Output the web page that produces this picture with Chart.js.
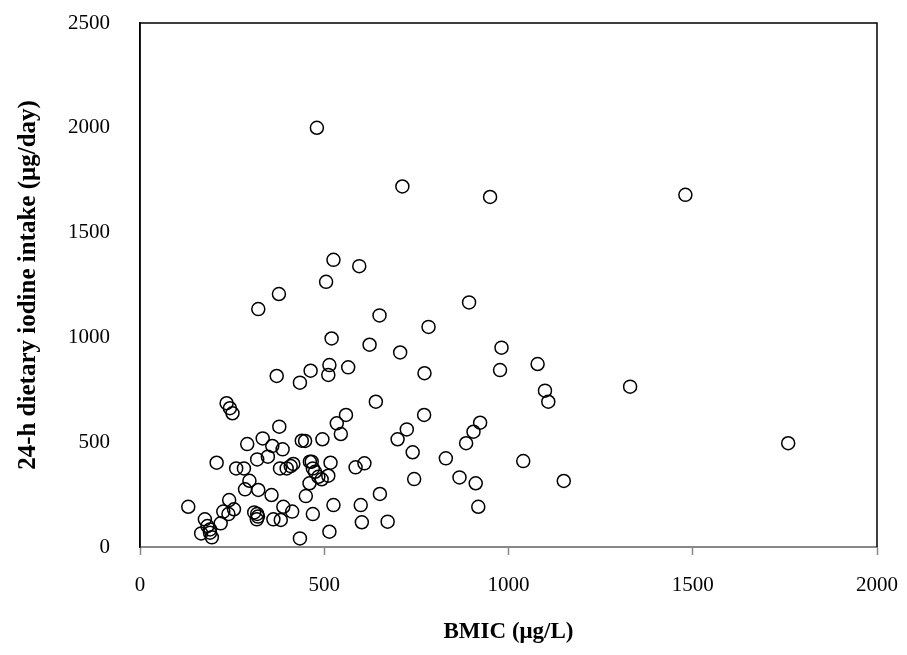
<!DOCTYPE html>
<html lang="en">
<head>
    <meta charset="UTF-8">
    <title>BMIC vs dietary iodine intake</title>
    <script src="https://cdn.jsdelivr.net/npm/chart.js"></script>
    <style>
        html, body {
            margin: 0;
            padding: 0;
            background: #ffffff;
        }
        .chart-box {
            width: 907px;
            height: 655px;
            position: relative;
        }
    </style>
</head>
<body>
    <div class="chart-box">
        <canvas id="scatterChart"></canvas>
    </div>

    <script>
        // BMIC (ug/L)
        const bmic = [
            480, 712, 950, 1480, 525, 595, 505, 377, 321, 650,
            893, 783, 520, 623, 706, 981, 977, 1079, 514, 511,
            565, 463, 434, 371, 772, 1099, 1108, 1330, 640, 235,
            244, 251, 559, 771, 534, 378, 923, 905, 724, 545,
            495, 448, 439, 699, 885, 1759, 333, 291, 359, 387,
            740, 830, 1040, 1150, 208, 261, 282, 318, 347, 380,
            398, 409, 416, 466, 461, 517, 585, 609, 867, 911,
            918, 744, 651, 469, 475, 484, 493, 511, 460, 297,
            285, 321, 357, 450, 525, 599, 469, 602, 672, 514,
            434, 389, 413, 362, 382, 310, 318, 320, 317, 242,
            255, 226, 240, 219, 131, 176, 183, 190, 166, 195,
            190
        ];
        // 24-h dietary iodine intake (ug/day), same order
        const intake = [
            2000, 1720, 1670, 1680, 1370, 1340, 1265, 1207, 1135, 1105,
            1167, 1050, 995, 965, 928, 951, 844, 873, 868, 821,
            857, 841, 784, 816, 829, 746, 693, 765, 693, 686,
            662, 638, 630, 630, 590, 574, 593, 550, 561, 539,
            514, 506, 507, 514, 495, 495, 518, 491, 482, 466,
            452, 423, 410, 315, 402, 375, 375, 418, 431, 375,
            375, 386, 396, 407, 407, 402, 380, 399, 332, 304,
            192, 324, 253, 375, 359, 335, 323, 340, 304, 316,
            275, 272, 248, 243, 200, 200, 157, 118, 121, 73,
            41, 192, 169, 132, 129, 165, 158, 145, 132, 224,
            180, 169, 157, 113, 192, 132, 100, 84, 65, 46,
            68
        ];
        const xTicks = [0, 500, 1000, 1500, 2000];
        const yTicks = [0, 500, 1000, 1500, 2000, 2500];

        const points = bmic.map((x, i) => ({ x: x, y: intake[i] }));

        const serif = "'Liberation Serif', 'Times New Roman', serif";

        // box around the plot area (Excel style)
        const plotFrame = {
            id: 'plotFrame',
            afterDraw(chart) {
                const a = chart.chartArea;
                const ctx = chart.ctx;
                ctx.save();
                ctx.strokeStyle = '#000000';
                ctx.lineWidth = 1.5;
                ctx.beginPath();
                ctx.moveTo(a.left, a.bottom);
                ctx.lineTo(a.left, a.top);
                ctx.lineTo(a.right, a.top);
                ctx.lineTo(a.right, a.bottom);
                ctx.stroke();
                ctx.restore();
            }
        };

        const ctx = document.getElementById('scatterChart').getContext('2d');
        new Chart(ctx, {
            type: 'scatter',
            data: {
                datasets: [{
                    label: 'Intake',
                    data: points,
                    pointStyle: 'circle',
                    pointRadius: 6.5,
                    pointBorderWidth: 1.5,
                    borderColor: '#000000',
                    backgroundColor: 'rgba(0,0,0,0)'
                }]
            },
            options: {
                responsive: true,
                maintainAspectRatio: false,
                animation: false,
                layout: {
                    padding: { left: 6, top: 23, right: 30, bottom: 0 }
                },
                plugins: {
                    legend: { display: false },
                    tooltip: { enabled: false }
                },
                scales: {
                    x: {
                        type: 'linear',
                        min: 0,
                        max: 2000,
                        afterBuildTicks: scale => {
                            scale.ticks = xTicks.map(v => ({ value: v }));
                        },
                        afterFit: scale => {
                            scale.height = 108;
                            scale.paddingLeft = 0;
                            scale.paddingRight = 0;
                        },
                        grid: {
                            drawOnChartArea: false,
                            drawTicks: true,
                            tickLength: 8,
                            tickColor: '#888888',
                            tickWidth: 1.5
                        },
                        border: { display: true, color: '#888888', width: 2 },
                        ticks: {
                            color: '#000000',
                            padding: 18,
                            maxRotation: 0,
                            callback: v => String(v),
                            font: { family: serif, size: 21 }
                        },
                        title: {
                            display: true,
                            text: 'BMIC (μg/L)',
                            color: '#000000',
                            padding: { top: 0, bottom: 9 },
                            font: { family: serif, size: 23, weight: 'bold' }
                        }
                    },
                    y: {
                        type: 'linear',
                        min: 0,
                        max: 2500,
                        afterBuildTicks: scale => {
                            scale.ticks = yTicks.map(v => ({ value: v }));
                        },
                        afterFit: scale => {
                            scale.width = 134;
                            scale.paddingTop = 0;
                            scale.paddingBottom = 0;
                        },
                        grid: {
                            display: false,
                            drawTicks: false
                        },
                        border: { display: true, color: '#000000', width: 1.5 },
                        ticks: {
                            color: '#000000',
                            padding: 30,
                            callback: v => String(v),
                            font: { family: serif, size: 21 }
                        },
                        title: {
                            display: true,
                            text: '24-h dietary iodine intake (μg/day)',
                            color: '#000000',
                            padding: { top: 8, bottom: 0 },
                            font: { family: serif, size: 25, weight: 'bold' }
                        }
                    }
                }
            },
            plugins: [plotFrame]
        });
    </script>
</body>
</html>
